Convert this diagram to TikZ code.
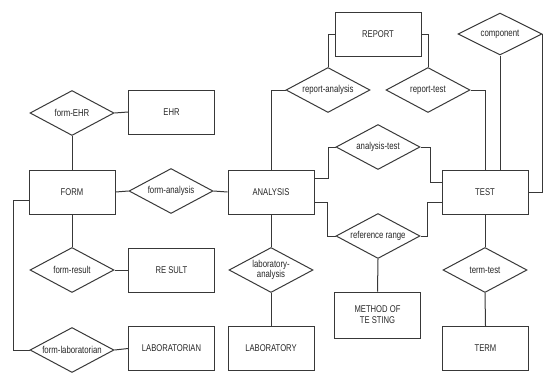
\documentclass[tikz,border=0pt]{standalone}
\usepackage{fontspec}
\setmainfont{Liberation Sans}[FakeStretch=0.78]
\usetikzlibrary{shapes.geometric}
\begin{document}
\begin{tikzpicture}[x=1pt,y=-1pt,
  entity/.style={draw=black!78, line width=1pt, rectangle, minimum width=86pt, minimum height=44pt,
    inner sep=1pt, font=\fontsize{9.8}{11}\selectfont, text=black!85, align=center},
  relation/.style={draw=black!78, line width=1pt, diamond, minimum width=84pt, minimum height=45pt,
    inner sep=0pt, aspect=1.85, font=\fontsize{10}{10.5}\selectfont, text=black!85, align=center},
  link/.style={draw=black!78, line width=1pt}]
\useasboundingbox (0,0) rectangle (545,373);

% entities
\node[entity] (ehr) at (171.5,112) {EHR};
\node[entity] (form) at (72,192) {FORM};
\node[entity] (analysis) at (271,192) {ANALYSIS};
\node[entity] (report) at (378,34) {REPORT};
\node[entity] (test) at (485,192) {TEST};
\node[entity] (result) at (171.5,270) {RE SULT};
\node[entity, minimum height=46pt] (method) at (377.5,315) {METHOD OF\\TE STING};
\node[entity] (labrian) at (171.5,348.5) {LABORATORIAN};
\node[entity] (lab) at (271,348.5) {LABORATORY};
\node[entity] (term) at (485.5,348.5) {TERM};

% relationships
\node[relation] (fehr) at (72,113) {form-EHR};
\node[relation] (fan) at (171,191) {form-analysis};
\node[relation] (ran) at (328,90) {report-analysis};
\node[relation] (rte) at (428,90) {report-test};
\node[relation, minimum height=42pt] (comp) at (500,34) {component};
\node[relation] (ate) at (378,147) {analysis-test};
\node[relation] (rr) at (378,236) {reference range};
\node[relation] (fres) at (72,270) {form-result};
\node[relation] (lan) at (271,270) {laboratory-\\analysis};
\node[relation] (tt) at (485,270) {term-test};
\node[relation] (flab) at (72,350) {form-laboratorian};

% connectors
\draw[link] (fehr.east) -- (ehr.west);
\draw[link] (fehr.south) -- (form.north);
\draw[link] (form.east) -- (fan.west);
\draw[link] (fan.east) -- (analysis.west);
\draw[link] (ran.west) -| (analysis.north);
\draw[link] (ran.north) |- (report.west);
\draw[link] (rte.north) |- (report.east);
\draw[link] (rte.east) -| (test.north);
\draw[link] (comp.south) -- (comp.south |- test.north);
\draw[link] (comp.east) |- (test.east);
\draw[link] (ate.west) -- ++(-7,0) |- ([yshift=14pt]analysis.east);
\draw[link] (ate.east) -- ++(10,0) |- ([yshift=10pt]test.west);
\draw[link] (rr.west) -- ++(-8,0) |- ([yshift=-10pt]analysis.east);
\draw[link] (rr.east) -- ++(7,0) |- ([yshift=-10pt]test.west);
\draw[link] (rr.south) -- (method.north);
\draw[link] (test.south) -- (tt.north);
\draw[link] (tt.south) -- (term.north);
\draw[link] (analysis.south) -- (lan.north);
\draw[link] (lan.south) -- (lab.north);
\draw[link] (form.south) -- (fres.north);
\draw[link] (fres.east) -- (result.west);
\draw[link] ([yshift=-8pt]form.west) -- ++(-15,0) |- (flab.west);
\draw[link] (flab.east) -- (labrian.west);
\end{tikzpicture}
\end{document}
